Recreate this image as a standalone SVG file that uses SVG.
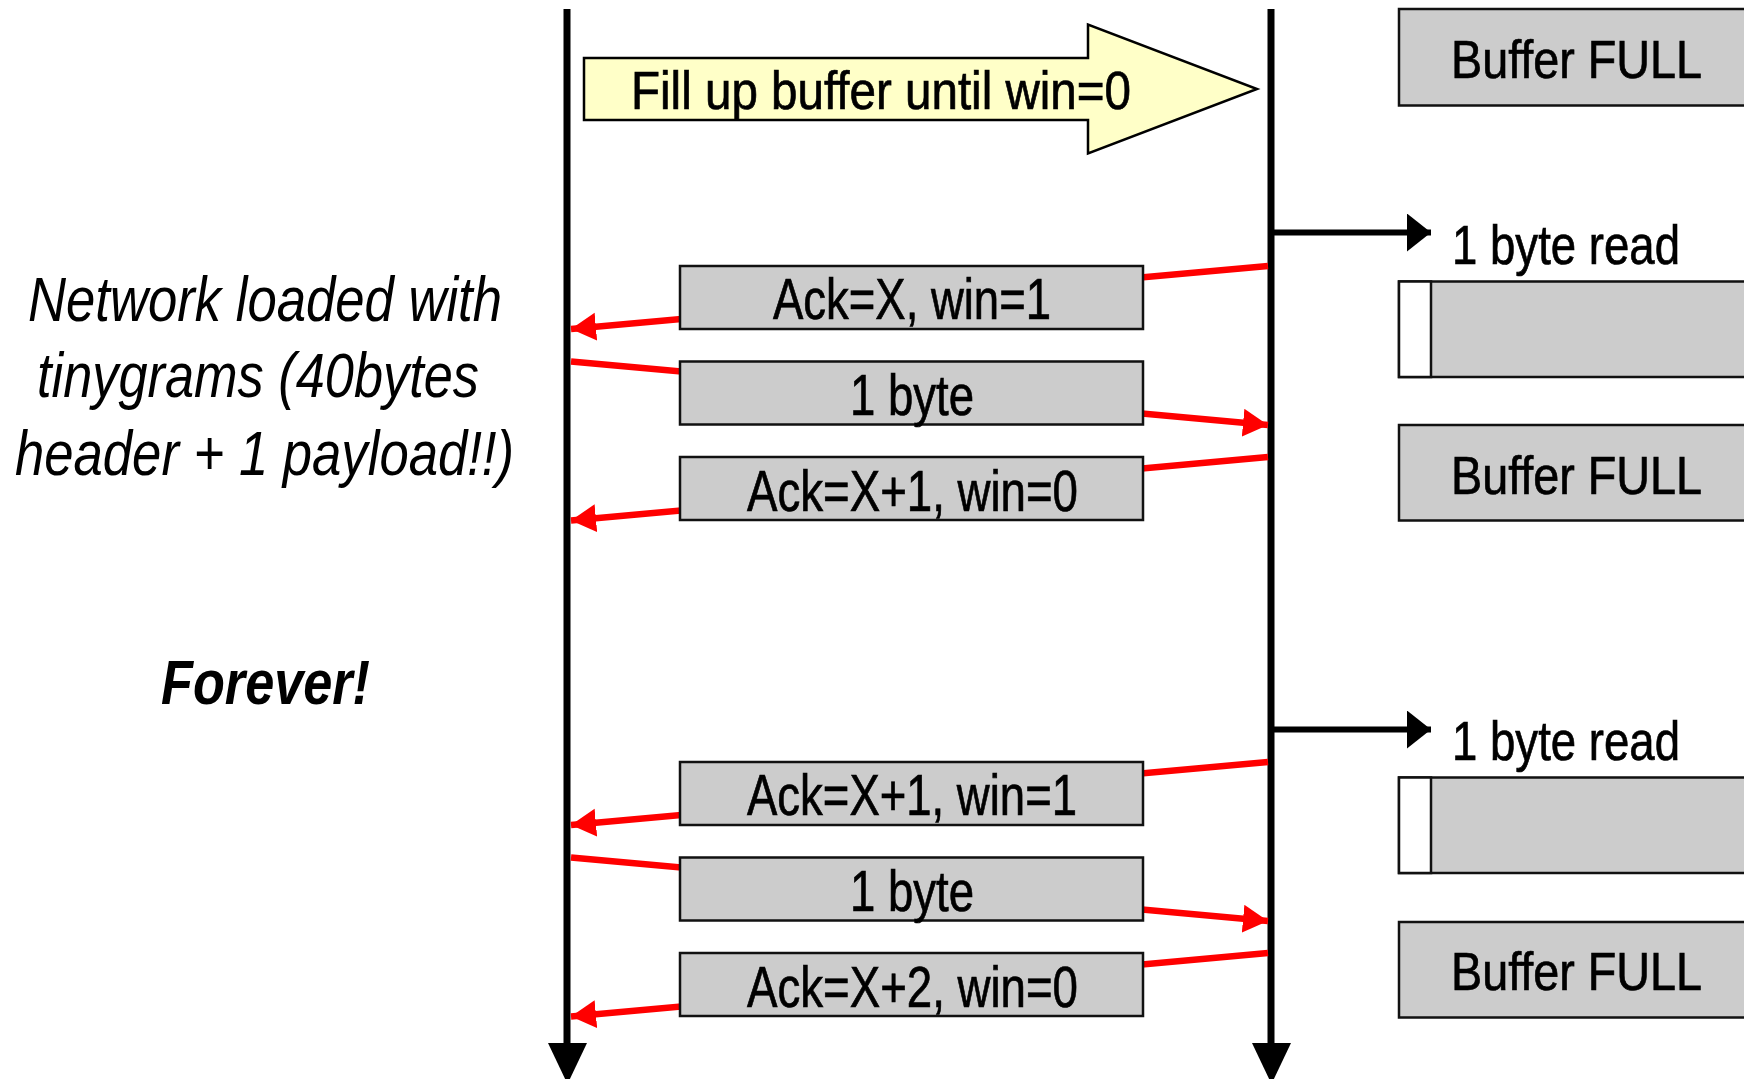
<svg xmlns="http://www.w3.org/2000/svg" width="1744" height="1079" viewBox="0 0 1744 1079">
<style>
.t{font-family:"Liberation Sans Narrow","Liberation Sans",Arial,sans-serif;fill:#000;}
.bx{stroke:#000;stroke-width:0.7;}
.msg{fill:#cccccc;stroke:#111;stroke-width:2.5;}
.buf{fill:#cccccc;stroke:#111;stroke-width:2.5;}
.red{stroke:#ff0000;stroke-width:6.5;fill:none;}
.blk{stroke:#000;stroke-width:6;fill:none;}
.tl{stroke:#000;stroke-width:7;fill:none;}
.side{font-style:italic;font-size:63px;}
</style>
<defs>
<marker id="ra" markerUnits="userSpaceOnUse" markerWidth="28" markerHeight="30" refX="25" refY="14" orient="auto" viewBox="0 0 28 30">
<path d="M0,0 L25,14 L0,28 z" fill="#ff0000"/>
</marker>
<marker id="ba" markerUnits="userSpaceOnUse" markerWidth="26" markerHeight="40" refX="24" refY="19" orient="auto" viewBox="0 0 26 40">
<path d="M0,0 L24,19 L0,38 z" fill="#000"/>
</marker>
</defs>
<rect width="1744" height="1079" fill="#fff"/>

<g id="timelines">
<line class="tl" x1="567" y1="9" x2="567" y2="1048"/>
<polygon points="548,1043 587,1043 567.5,1084" fill="#000"/>
<line class="tl" x1="1271" y1="9" x2="1271" y2="1048"/>
<polygon points="1252,1043 1291,1043 1271.5,1084" fill="#000"/>
</g>

<g id="connectors">
<line class="red" x1="1268" y1="266" x2="571" y2="329" marker-end="url(#ra)"/>
<line class="red" x1="571" y1="361.5" x2="1268" y2="425" marker-end="url(#ra)"/>
<line class="red" x1="1268" y1="457" x2="571" y2="520.5" marker-end="url(#ra)"/>
<line class="red" x1="1268" y1="762" x2="571" y2="825" marker-end="url(#ra)"/>
<line class="red" x1="571" y1="857.5" x2="1268" y2="921" marker-end="url(#ra)"/>
<line class="red" x1="1268" y1="953" x2="571" y2="1016.5" marker-end="url(#ra)"/>
<line class="blk" x1="1274" y1="232.5" x2="1431" y2="232.5" marker-end="url(#ba)"/>
<line class="blk" x1="1274" y1="729.5" x2="1431" y2="729.5" marker-end="url(#ba)"/>
</g>

<g id="fill-arrow">
<polygon points="584,58 1088,58 1088,24.5 1257,89 1088,153.5 1088,120 584,120" fill="#ffffc8" stroke="#000" stroke-width="2.5"/>
<text class="t bx" x="631" y="109" font-size="53" textLength="500" lengthAdjust="spacingAndGlyphs">Fill up buffer until win=0</text>
</g>

<g id="msg1">
<rect class="msg" x="680" y="266" width="463" height="63"/>
<text class="t bx" x="773" y="319" font-size="57" textLength="278" lengthAdjust="spacingAndGlyphs">Ack=X, win=1</text>
</g>
<g id="msg2">
<rect class="msg" x="680" y="361.5" width="463" height="63"/>
<text class="t bx" x="850" y="415" font-size="57" textLength="124" lengthAdjust="spacingAndGlyphs">1 byte</text>
</g>
<g id="msg3">
<rect class="msg" x="680" y="457" width="463" height="63"/>
<text class="t bx" x="747" y="510.5" font-size="57" textLength="331" lengthAdjust="spacingAndGlyphs">Ack=X+1, win=0</text>
</g>
<g id="msg4">
<rect class="msg" x="680" y="762" width="463" height="63"/>
<text class="t bx" x="747" y="815" font-size="57" textLength="330" lengthAdjust="spacingAndGlyphs">Ack=X+1, win=1</text>
</g>
<g id="msg5">
<rect class="msg" x="680" y="857.5" width="463" height="63"/>
<text class="t bx" x="850" y="911" font-size="57" textLength="124" lengthAdjust="spacingAndGlyphs">1 byte</text>
</g>
<g id="msg6">
<rect class="msg" x="680" y="953" width="463" height="63"/>
<text class="t bx" x="747" y="1006.5" font-size="57" textLength="331" lengthAdjust="spacingAndGlyphs">Ack=X+2, win=0</text>
</g>

<g id="buffer-full-1">
<rect class="buf" x="1399" y="9" width="360" height="96.5"/>
<text class="t bx" x="1451" y="78" font-size="53" textLength="251" lengthAdjust="spacingAndGlyphs">Buffer FULL</text>
</g>
<g id="read-1">
<text class="t bx" x="1452" y="264" font-size="55" textLength="228" lengthAdjust="spacingAndGlyphs">1 byte read</text>
</g>
<g id="buffer-partial-1">
<rect class="buf" x="1399" y="281.5" width="360" height="95.5"/>
<rect x="1399" y="281.5" width="32" height="95.5" fill="#fff" stroke="#111" stroke-width="2.5"/>
</g>
<g id="buffer-full-2">
<rect class="buf" x="1399" y="425" width="360" height="95.5"/>
<text class="t bx" x="1451" y="494" font-size="53" textLength="251" lengthAdjust="spacingAndGlyphs">Buffer FULL</text>
</g>
<g id="read-2">
<text class="t bx" x="1452" y="760" font-size="55" textLength="228" lengthAdjust="spacingAndGlyphs">1 byte read</text>
</g>
<g id="buffer-partial-2">
<rect class="buf" x="1399" y="777.5" width="360" height="95.5"/>
<rect x="1399" y="777.5" width="32" height="95.5" fill="#fff" stroke="#111" stroke-width="2.5"/>
</g>
<g id="buffer-full-3">
<rect class="buf" x="1399" y="922" width="360" height="95.5"/>
<text class="t bx" x="1451" y="990" font-size="53" textLength="251" lengthAdjust="spacingAndGlyphs">Buffer FULL</text>
</g>

<g id="note">
<text class="t side" x="28" y="321" textLength="474" lengthAdjust="spacingAndGlyphs">Network loaded with</text>
<text class="t side" x="37" y="397" textLength="442" lengthAdjust="spacingAndGlyphs">tinygrams (40bytes</text>
<text class="t side" x="15" y="475" textLength="499" lengthAdjust="spacingAndGlyphs">header + 1 payload!!)</text>
</g>
<g id="forever">
<text class="t side" x="161" y="704" font-weight="bold" textLength="209" lengthAdjust="spacingAndGlyphs">Forever!</text>
</g>
</svg>
